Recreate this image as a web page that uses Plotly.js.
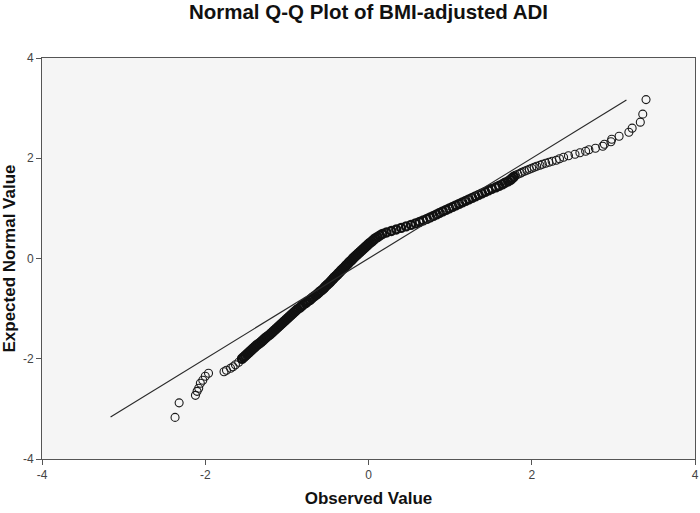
<!DOCTYPE html>
<html>
<head>
<meta charset="utf-8">
<script src="https://cdn.plot.ly/plotly-3.0.1.min.js"></script>
<style>html,body{margin:0;padding:0;background:#fff;}#chart{width:700px;height:513px;}</style>
</head>
<body>
<div id="chart"></div>
<script>
const lowerTailX = [-2.37, -2.32, -2.12, -2.10, -2.08, -2.06, -2.03, -2.00, -1.96, -1.77, -1.74, -1.69, -1.66, -1.63, -1.59];
const lowerTailY = [-3.17, -2.88, -2.73, -2.65, -2.59, -2.49, -2.43, -2.35, -2.29, -2.26, -2.23, -2.19, -2.16, -2.12, -2.07];

const bodyY = [-2.00,-1.97,-1.94,-1.91,-1.88,-1.85,-1.82,-1.79,-1.76,-1.73,-1.70,-1.67,-1.64,-1.61,-1.58,-1.55,-1.52,-1.49,-1.46,-1.43,-1.40,
  -1.37,-1.34,-1.31,-1.28,-1.25,-1.22,-1.19,-1.16,-1.13,-1.10,-1.07,-1.04,-1.01,-0.98,-0.95,-0.92,-0.89,-0.86,-0.83,-0.80,
  -0.77,-0.74,-0.71,-0.68,-0.65,-0.62,-0.59,-0.56,-0.53,-0.50,-0.47,-0.44,-0.41,-0.38,-0.35,-0.32,-0.29,-0.26,-0.23,-0.20,
  -0.17,-0.14,-0.11,-0.08,-0.05,-0.02,0.01,0.04,0.07,0.10,0.13,0.16,0.19,0.22,0.25,0.28,0.31,0.34,0.37,0.40,
  0.43,0.46,0.49,0.52,0.55,0.58,0.61,0.64,0.67,0.70,0.73,0.76,0.79,0.82,0.85,0.88,0.91,0.94,0.97,1.00,
  1.03,1.06,1.09,1.12,1.15,1.18,1.21,1.24,1.27,1.30,1.33,1.36,1.39,1.42,1.45,1.48,1.51,1.54,1.57,1.60,1.63];
const bodyX = [-1.55,-1.53,-1.51,-1.49,-1.47,-1.45,-1.43,-1.41,-1.39,-1.37,-1.345,-1.32,-1.30,-1.28,-1.26,-1.235,-1.21,-1.19,-1.17,-1.15,-1.13,
  -1.11,-1.09,-1.07,-1.05,-1.03,-1.01,-0.99,-0.97,-0.95,-0.93,-0.91,-0.89,-0.87,-0.84,-0.82,-0.80,-0.77,-0.75,-0.72,-0.70,
  -0.68,-0.655,-0.63,-0.61,-0.59,-0.565,-0.545,-0.53,-0.51,-0.49,-0.47,-0.455,-0.435,-0.42,-0.40,-0.38,-0.365,-0.345,-0.33,-0.31,
  -0.29,-0.275,-0.255,-0.24,-0.22,-0.20,-0.185,-0.165,-0.145,-0.125,-0.105,-0.085,-0.065,-0.045,-0.025,-0.005,0.015,0.04,0.06,0.08,
  0.11,0.14,0.17,0.22,0.28,0.34,0.40,0.46,0.52,0.575,0.625,0.67,0.715,0.755,0.795,0.835,0.87,0.91,0.95,0.99,
  1.03,1.07,1.11,1.15,1.19,1.23,1.27,1.31,1.35,1.39,1.43,1.47,1.51,1.56,1.60,1.64,1.67,1.71,1.74,1.76,1.78];

const upperTailX = [1.80, 1.83, 1.86, 1.88, 1.91, 1.94, 1.97, 2.00, 2.03, 2.06, 2.10, 2.13, 2.17, 2.21, 2.25, 2.30, 2.34, 2.39, 2.45, 2.53, 2.59, 2.66, 2.70, 2.78, 2.87, 2.89, 2.97, 2.98, 3.07, 3.19, 3.23, 3.33, 3.36, 3.40];
const upperTailY = [1.66, 1.68, 1.70, 1.72, 1.74, 1.76, 1.78, 1.80, 1.82, 1.84, 1.86, 1.88, 1.90, 1.92, 1.94, 1.96, 1.99, 2.02, 2.05, 2.08, 2.11, 2.14, 2.17, 2.20, 2.24, 2.28, 2.33, 2.38, 2.44, 2.52, 2.60, 2.72, 2.88, 3.17];

const refLineX = [-3.16, 3.16];
const refLineY = [-3.16, 3.16];

const xTicks = [-4, -2, 0, 2, 4];
const yTicks = [-4, -2, 0, 2, 4];

const font = "'Liberation Sans', Arial, sans-serif";

const traces = [
  {
    x: lowerTailX.concat(upperTailX), y: lowerTailY.concat(upperTailY), type: 'scatter', mode: 'markers',
    marker: {symbol: 'circle-open', size: 8, color: '#1a1a1a', line: {width: 1.1, color: '#1a1a1a'}},
    hoverinfo: 'skip', showlegend: false
  },
  {
    x: bodyX, y: bodyY, type: 'scatter', mode: 'markers',
    marker: {symbol: 'circle-open', size: 8, color: '#111111', line: {width: 2.4, color: '#111111'}},
    hoverinfo: 'skip', showlegend: false
  },
  {
    x: refLineX, y: refLineY, type: 'scatter', mode: 'lines',
    line: {color: '#2a2a2a', width: 1.2}, hoverinfo: 'skip', showlegend: false
  }
];

const axisCommon = {
  showgrid: false, zeroline: false, showline: true, mirror: true,
  linecolor: '#555555', linewidth: 1,
  ticks: 'outside', ticklen: 5, tickwidth: 1, tickcolor: '#555555',
  tickfont: {family: font, size: 12, color: '#444444'}
};

const layout = {
  width: 700, height: 513,
  margin: {l: 42, r: 5, t: 58, b: 54},
  paper_bgcolor: '#ffffff',
  plot_bgcolor: '#f5f5f5',
  title: {text: '<b>Normal Q-Q Plot of BMI-adjusted ADI</b>', x: 0.5, xref: 'paper', y: 0.99, yref: 'container', yanchor: 'top',
          font: {family: font, size: 20.5, color: '#111111'}},
  xaxis: Object.assign({}, axisCommon, {
    range: [-4, 4], tickvals: xTicks, ticktext: xTicks.map(String),
    title: {text: '<b>Observed Value</b>', font: {family: font, size: 17, color: '#111111'}, standoff: 10}
  }),
  yaxis: Object.assign({}, axisCommon, {
    range: [-4, 4], tickvals: yTicks, ticktext: yTicks.map(String),
    title: {text: '<b>Expected Normal Value</b>', font: {family: font, size: 17, color: '#111111'}, standoff: 6}
  }),
  showlegend: false
};

Plotly.newPlot('chart', traces, layout, {displayModeBar: false, staticPlot: true});
</script>
</body>
</html>
